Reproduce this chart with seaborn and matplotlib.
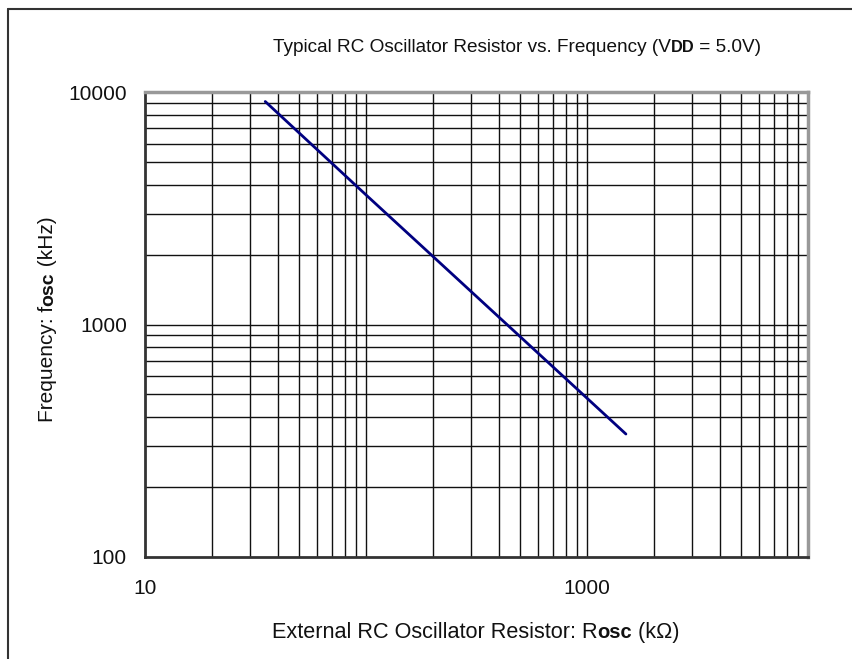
import numpy as np
import matplotlib
matplotlib.use("Agg")
import matplotlib.pyplot as plt
import matplotlib.transforms as mtransforms
from matplotlib.lines import Line2D
from matplotlib.ticker import FixedLocator, NullFormatter
import seaborn as sns
import pandas as pd

# values (log-log straight line)
r_osc_kohm = [35, 100, 200, 500, 1000, 1500]
f_osc_khz = [9100, 3610, 1970, 884, 482, 338]

x_ticks = [10, 1000]
x_ticklabels = ["10", "1000"]
y_ticks = [100, 1000, 10000]
y_ticklabels = ["100", "1000", "10000"]

W, H = 852, 659

sns.set_theme(style="white")
plt.rcParams["font.family"] = ["Liberation Sans", "DejaVu Sans"]

fig = plt.figure(figsize=(W / 100, H / 100), dpi=100)
ax = fig.add_axes([145 / W, 1 - 557 / H, (808 - 145) / W, (557 - 92) / H])

df = pd.DataFrame({"R": r_osc_kohm, "f": f_osc_khz})
sns.lineplot(data=df, x="R", y="f", ax=ax, color="#000080", lw=2.0)

ax.set_xscale("log")
ax.set_yscale("log")
ax.set_xlim(10, 10000)
ax.set_ylim(100, 10000)

# grid: every 1..9 x decade
xgrid = [m * 10 ** e for e in range(1, 4) for m in range(1, 10)] + [10000]
ygrid = [m * 10 ** e for e in range(2, 4) for m in range(1, 10)] + [10000]
for v in xgrid[1:-1]:
    ax.axvline(v, color="#111111", lw=1.0, zorder=0)
for v in ygrid[1:-1]:
    ax.axhline(v, color="#111111", lw=1.0, zorder=0)

ax.xaxis.set_major_locator(FixedLocator(x_ticks))
ax.xaxis.set_minor_locator(FixedLocator([]))
ax.yaxis.set_major_locator(FixedLocator(y_ticks))
ax.yaxis.set_minor_locator(FixedLocator([]))
ax.set_xticklabels(x_ticklabels)
ax.set_yticklabels(y_ticklabels)
ax.xaxis.set_minor_formatter(NullFormatter())
ax.yaxis.set_minor_formatter(NullFormatter())
ax.tick_params(axis="both", length=0, labelsize=15, colors="#111111")
ax.tick_params(axis="x", pad=16)
ax.tick_params(axis="y", pad=13)
ax.set_xlabel("")
ax.set_ylabel("")

for side in ["left", "bottom"]:
    ax.spines[side].set_color("#333333")
    ax.spines[side].set_linewidth(2)
for side in ["top", "right"]:
    ax.spines[side].set_color("#999999")
    ax.spines[side].set_linewidth(2.5)

# outer frame (top and left only, as in the reference)
fig.add_artist(Line2D([8 / W, 1], [1 - 9 / H, 1 - 9 / H], transform=fig.transFigure,
                      color="#333333", lw=1.5))
fig.add_artist(Line2D([8 / W, 8 / W], [0, 1 - 9 / H], transform=fig.transFigure,
                      color="#333333", lw=1.5))

fig.canvas.draw()
renderer = fig.canvas.get_renderer()
ident = mtransforms.IdentityTransform()


def rich_text(x, y, pieces, rotation=0, size=13):
    # pieces of text with their own weight/size, centred on x (or y if rotated)
    widths = []
    for s, kw in pieces:
        t = fig.text(0, 0, s, transform=ident, fontsize=kw.get("size", size),
                     fontweight=kw.get("weight", "normal"))
        widths.append(t.get_window_extent(renderer).width)
        t.remove()
    total = sum(widths)
    pos = (y if rotation else x) - total / 2
    for (s, kw), w in zip(pieces, widths):
        px, py = (x, pos) if rotation else (pos, y)
        fig.text(px, py, s, transform=ident, fontsize=kw.get("size", size),
                 fontweight=kw.get("weight", "normal"), rotation=rotation,
                 rotation_mode="anchor", ha="left", va="baseline", color="#111111")
        pos += w


rich_text(517, H - 52, [("Typical RC Oscillator Resistor vs. Frequency (V", {}),
                        ("DD", {"weight": "bold", "size": 11.8}),
                        (" = 5.0V)", {})], size=13.7)
rich_text(476, H - 638, [("External RC Oscillator Resistor: R", {}),
                         ("osc", {"weight": "bold", "size": 14.5}),
                         (" (k\u03a9)", {})], size=15.6)
rich_text(53, H - 319, [("Frequency: f", {}),
                        ("osc", {"weight": "bold", "size": 14}),
                        (" (kHz)", {})], rotation=90, size=15)

fig.savefig("out.png", dpi=100)
